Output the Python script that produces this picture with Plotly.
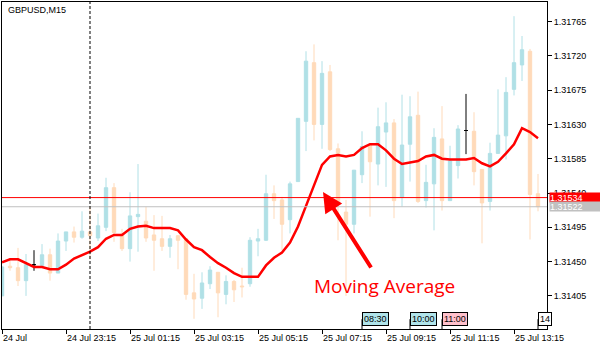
import plotly.graph_objects as go
import pandas as pd

# ---------------- data ----------------
times = pd.date_range("2018-07-24 21:15", periods=68, freq="15min")

open_ = [1.31405, 1.31444, 1.31442, 1.31425, 1.31446, 1.31445, 1.31459, 1.31435, 1.31477, 1.31489,
         1.31482, 1.31489, 1.31481, 1.31495, 1.31547, 1.31486, 1.31467, 1.31509, 1.31503, 1.31485,
         1.31480, 1.31470, 1.31484, 1.31480, 1.31409, 1.31402, 1.31421, 1.31436, 1.31407, 1.31424,
         1.31418, 1.31421, 1.31477, 1.31478, 1.31539, 1.31531, 1.31505, 1.31555, 1.31634, 1.31711,
         1.31630, 1.31699, 1.31598, 1.31515, 1.31499, 1.31564, 1.31603, 1.31578, 1.31620, 1.31632,
         1.31534, 1.31604, 1.31642, 1.31530, 1.31552, 1.31611, 1.31530, 1.31576, 1.31622, 1.31621,
         1.31571, 1.31529, 1.31592, 1.31615, 1.31676, 1.31708, 1.31726, 1.31539]
high = [1.31444, 1.31453, 1.31468, 1.31460, 1.31465, 1.31473, 1.31467, 1.31487, 1.31489, 1.31496,
        1.31516, 1.31523, 1.31513, 1.31560, 1.31553, 1.31493, 1.31541, 1.31578, 1.31522, 1.31511,
        1.31510, 1.31485, 1.31485, 1.31480, 1.31434, 1.31436, 1.31444, 1.31436, 1.31432, 1.31426,
        1.31442, 1.31482, 1.31493, 1.31564, 1.31550, 1.31535, 1.31555, 1.31638, 1.31726, 1.31735,
        1.31713, 1.31708, 1.31605, 1.31531, 1.31570, 1.31621, 1.31605, 1.31652, 1.31659, 1.31637,
        1.31669, 1.31667, 1.31673, 1.31577, 1.31625, 1.31654, 1.31602, 1.31629, 1.31670, 1.31646,
        1.31571, 1.31606, 1.31676, 1.31692, 1.31772, 1.31746, 1.31729, 1.31565]
low = [1.31405, 1.31438, 1.31418, 1.31405, 1.31438, 1.31444, 1.31425, 1.31435, 1.31464, 1.31475,
       1.31480, 1.31453, 1.31477, 1.31490, 1.31476, 1.31464, 1.31450, 1.31463, 1.31476, 1.31438,
       1.31464, 1.31455, 1.31440, 1.31400, 1.31375, 1.31388, 1.31414, 1.31377, 1.31394, 1.31397,
       1.31403, 1.31417, 1.31457, 1.31477, 1.31506, 1.31465, 1.31487, 1.31555, 1.31595, 1.31609,
       1.31598, 1.31595, 1.31478, 1.31405, 1.31487, 1.31553, 1.31509, 1.31550, 1.31548, 1.31507,
       1.31522, 1.31555, 1.31527, 1.31521, 1.31491, 1.31517, 1.31530, 1.31559, 1.31591, 1.31550,
       1.31474, 1.31517, 1.31592, 1.31584, 1.31668, 1.31687, 1.31479, 1.31516]
close = [1.31443, 1.31442, 1.31425, 1.31446, 1.31446, 1.31459, 1.31435, 1.31477, 1.31489, 1.31482,
         1.31490, 1.31484, 1.31497, 1.31547, 1.31488, 1.31467, 1.31510, 1.31512, 1.31481, 1.31478,
         1.31470, 1.31480, 1.31478, 1.31407, 1.31401, 1.31422, 1.31439, 1.31409, 1.31424, 1.31413,
         1.31417, 1.31478, 1.31480, 1.31539, 1.31530, 1.31499, 1.31552, 1.31638, 1.31713, 1.31630,
         1.31697, 1.31597, 1.31526, 1.31499, 1.31570, 1.31601, 1.31581, 1.31627, 1.31632, 1.31530,
         1.31603, 1.31640, 1.31529, 1.31554, 1.31613, 1.31530, 1.31582, 1.31624, 1.31622, 1.31568,
         1.31527, 1.31592, 1.31616, 1.31672, 1.31711, 1.31728, 1.31538, 1.31522]
moving_average = [1.31449, 1.31453, 1.31453, 1.31448, 1.31443, 1.31443, 1.31440, 1.31440, 1.31446, 1.31454,
                  1.31458, 1.31463, 1.31469, 1.31480, 1.31485, 1.31485, 1.31493, 1.31496, 1.31497, 1.31494,
                  1.31494, 1.31494, 1.31491, 1.31479, 1.31469, 1.31465, 1.31456, 1.31448, 1.31442, 1.31435,
                  1.31430, 1.31430, 1.31430, 1.31445, 1.31455, 1.31462, 1.31475, 1.31496, 1.31524, 1.31550,
                  1.31577, 1.31588, 1.31590, 1.31588, 1.31590, 1.31599, 1.31604, 1.31604, 1.31596, 1.31585,
                  1.31578, 1.31580, 1.31582, 1.31588, 1.31590, 1.31585, 1.31584, 1.31584, 1.31584, 1.31586,
                  1.31579, 1.31575, 1.31581, 1.31592, 1.31604, 1.31625, 1.31620, 1.31612]

time_tick_vals = ["2018-07-24 21:15", "2018-07-24 23:15", "2018-07-25 01:15", "2018-07-25 03:15",
                  "2018-07-25 05:15", "2018-07-25 07:15", "2018-07-25 09:15", "2018-07-25 11:15",
                  "2018-07-25 13:15"]
time_tick_text = ["24 Jul", "24 Jul 23:15", "25 Jul 01:15", "25 Jul 03:15", "25 Jul 05:15",
                  "25 Jul 07:15", "25 Jul 09:15", "25 Jul 11:15", "25 Jul 13:15"]
price_ticks = [1.31405, 1.31450, 1.31495, 1.31540, 1.31585, 1.31630, 1.31675, 1.31720, 1.31765]
ask_price = 1.31534
bid_price = 1.31522
day_separator = "2018-07-25 00:00"
event_times = ["2018-07-25 08:30", "2018-07-25 10:00", "2018-07-25 11:00", "2018-07-25 14:00"]
event_labels = ["08:30", "10:00", "11:00", "14"]
event_colors = ["#b0e4ea", "#b0e4ea", "#ffc0cb", "#ffffff"]
x_range = ["2018-07-24 21:14:59", "2018-07-25 14:16:52"]
y_range = [1.313616, 1.317906]

# ---------------- figure ----------------
BLUE = "#b0e0e6"
PEACH = "#ffdab9"
FONT = "Liberation Sans"

normal = [i for i in range(len(times)) if open_[i] != close[i]]
doji = [i for i in range(len(times)) if open_[i] == close[i]]

fig = go.Figure()
fig.add_trace(go.Candlestick(
    x=[times[i] for i in normal],
    open=[open_[i] for i in normal], high=[high[i] for i in normal],
    low=[low[i] for i in normal], close=[close[i] for i in normal],
    increasing=dict(line=dict(color=BLUE, width=1), fillcolor=BLUE),
    decreasing=dict(line=dict(color=PEACH, width=1), fillcolor=PEACH),
    whiskerwidth=0, showlegend=False, hoverinfo="x+y"))
fig.add_trace(go.Candlestick(
    x=[times[i] for i in doji],
    open=[open_[i] for i in doji], high=[high[i] for i in doji],
    low=[low[i] for i in doji], close=[close[i] for i in doji],
    increasing=dict(line=dict(color="black", width=1), fillcolor="black"),
    decreasing=dict(line=dict(color="black", width=1), fillcolor="black"),
    whiskerwidth=0, showlegend=False))
fig.add_trace(go.Scatter(x=times, y=moving_average, mode="lines",
                         line=dict(color="#ff0000", width=2.5), showlegend=False))

shapes = [
    dict(type="line", xref="paper", x0=0, x1=1, yref="y", y0=ask_price, y1=ask_price,
         line=dict(color="#ff0000", width=1)),
    dict(type="line", xref="paper", x0=0, x1=1, yref="y", y0=bid_price, y1=bid_price,
         line=dict(color="#c0c0c0", width=1)),
    dict(type="line", xref="x", x0=day_separator, x1=day_separator, yref="paper", y0=0, y1=1,
         line=dict(color="black", width=1, dash="3px,2px")),
]
annotations = [
    dict(text="GBPUSD,M15", xref="paper", yref="paper", x=0, y=1, xanchor="left", yanchor="top",
         xshift=4, yshift=-1, showarrow=False, font=dict(family=FONT, size=9, color="black")),
    dict(text="1.31534", xref="paper", yref="y", x=1, y=ask_price, xanchor="left", yanchor="middle",
         xshift=2, showarrow=False, bgcolor="#ff0000", width=50, height=9, align="left", borderpad=0,
         font=dict(family=FONT, size=9, color="white")),
    dict(text="1.31522", xref="paper", yref="y", x=1, y=bid_price, xanchor="left", yanchor="middle",
         xshift=2, showarrow=False, bgcolor="#c0c0c0", width=50, height=9, align="left", borderpad=0,
         font=dict(family=FONT, size=9, color="white")),
    dict(text="Moving Average", xref="paper", yref="paper", x=0.701, y=0.1315,
         xanchor="center", yanchor="middle", showarrow=False,
         font=dict(family="Open Sans", size=19, color="#ff0000")),
    dict(text="", xref="paper", yref="paper", x=0.589, y=0.419, ax=49, ay=77, showarrow=True,
         arrowhead=2, arrowsize=1, arrowwidth=4, arrowcolor="#ff0000", standoff=0),
]
for t, lab, col in zip(event_times, event_labels, event_colors):
    shapes.append(dict(type="line", xref="x", x0=t, x1=t, yref="paper", y0=0, y1=0.03,
                       line=dict(color="black", width=1)))
    annotations.append(dict(text=lab, xref="x", yref="paper", x=t, y=0, xanchor="left",
                            yanchor="bottom", yshift=3, showarrow=False, bgcolor=col,
                            bordercolor="black", borderwidth=1, borderpad=1,
                            font=dict(family=FONT, size=9, color="black")))

fig.update_layout(
    width=600, height=350,
    margin=dict(l=2, r=53, t=2, b=21),
    paper_bgcolor="white", plot_bgcolor="white",
    showlegend=False, boxgap=0.4,
    shapes=shapes, annotations=annotations,
    font=dict(family=FONT, size=9, color="black"),
    xaxis=dict(type="date", range=x_range, rangeslider=dict(visible=False),
               tickvals=time_tick_vals, ticktext=time_tick_text,
               ticks="outside", ticklen=4, tickcolor="black",
               ticklabelposition="outside right",
               showgrid=False, zeroline=False, showline=True, linecolor="black",
               linewidth=1, mirror=True, tickfont=dict(family=FONT, size=9)),
    yaxis=dict(side="right", range=y_range, tickvals=price_ticks,
               ticktext=[f"{p:.5f}" for p in price_ticks],
               ticks="outside", ticklen=4, tickcolor="black",
               showgrid=False, zeroline=False, showline=True, linecolor="black",
               linewidth=1, mirror=True, tickfont=dict(family=FONT, size=9)),
)

fig.write_html("out.html")
